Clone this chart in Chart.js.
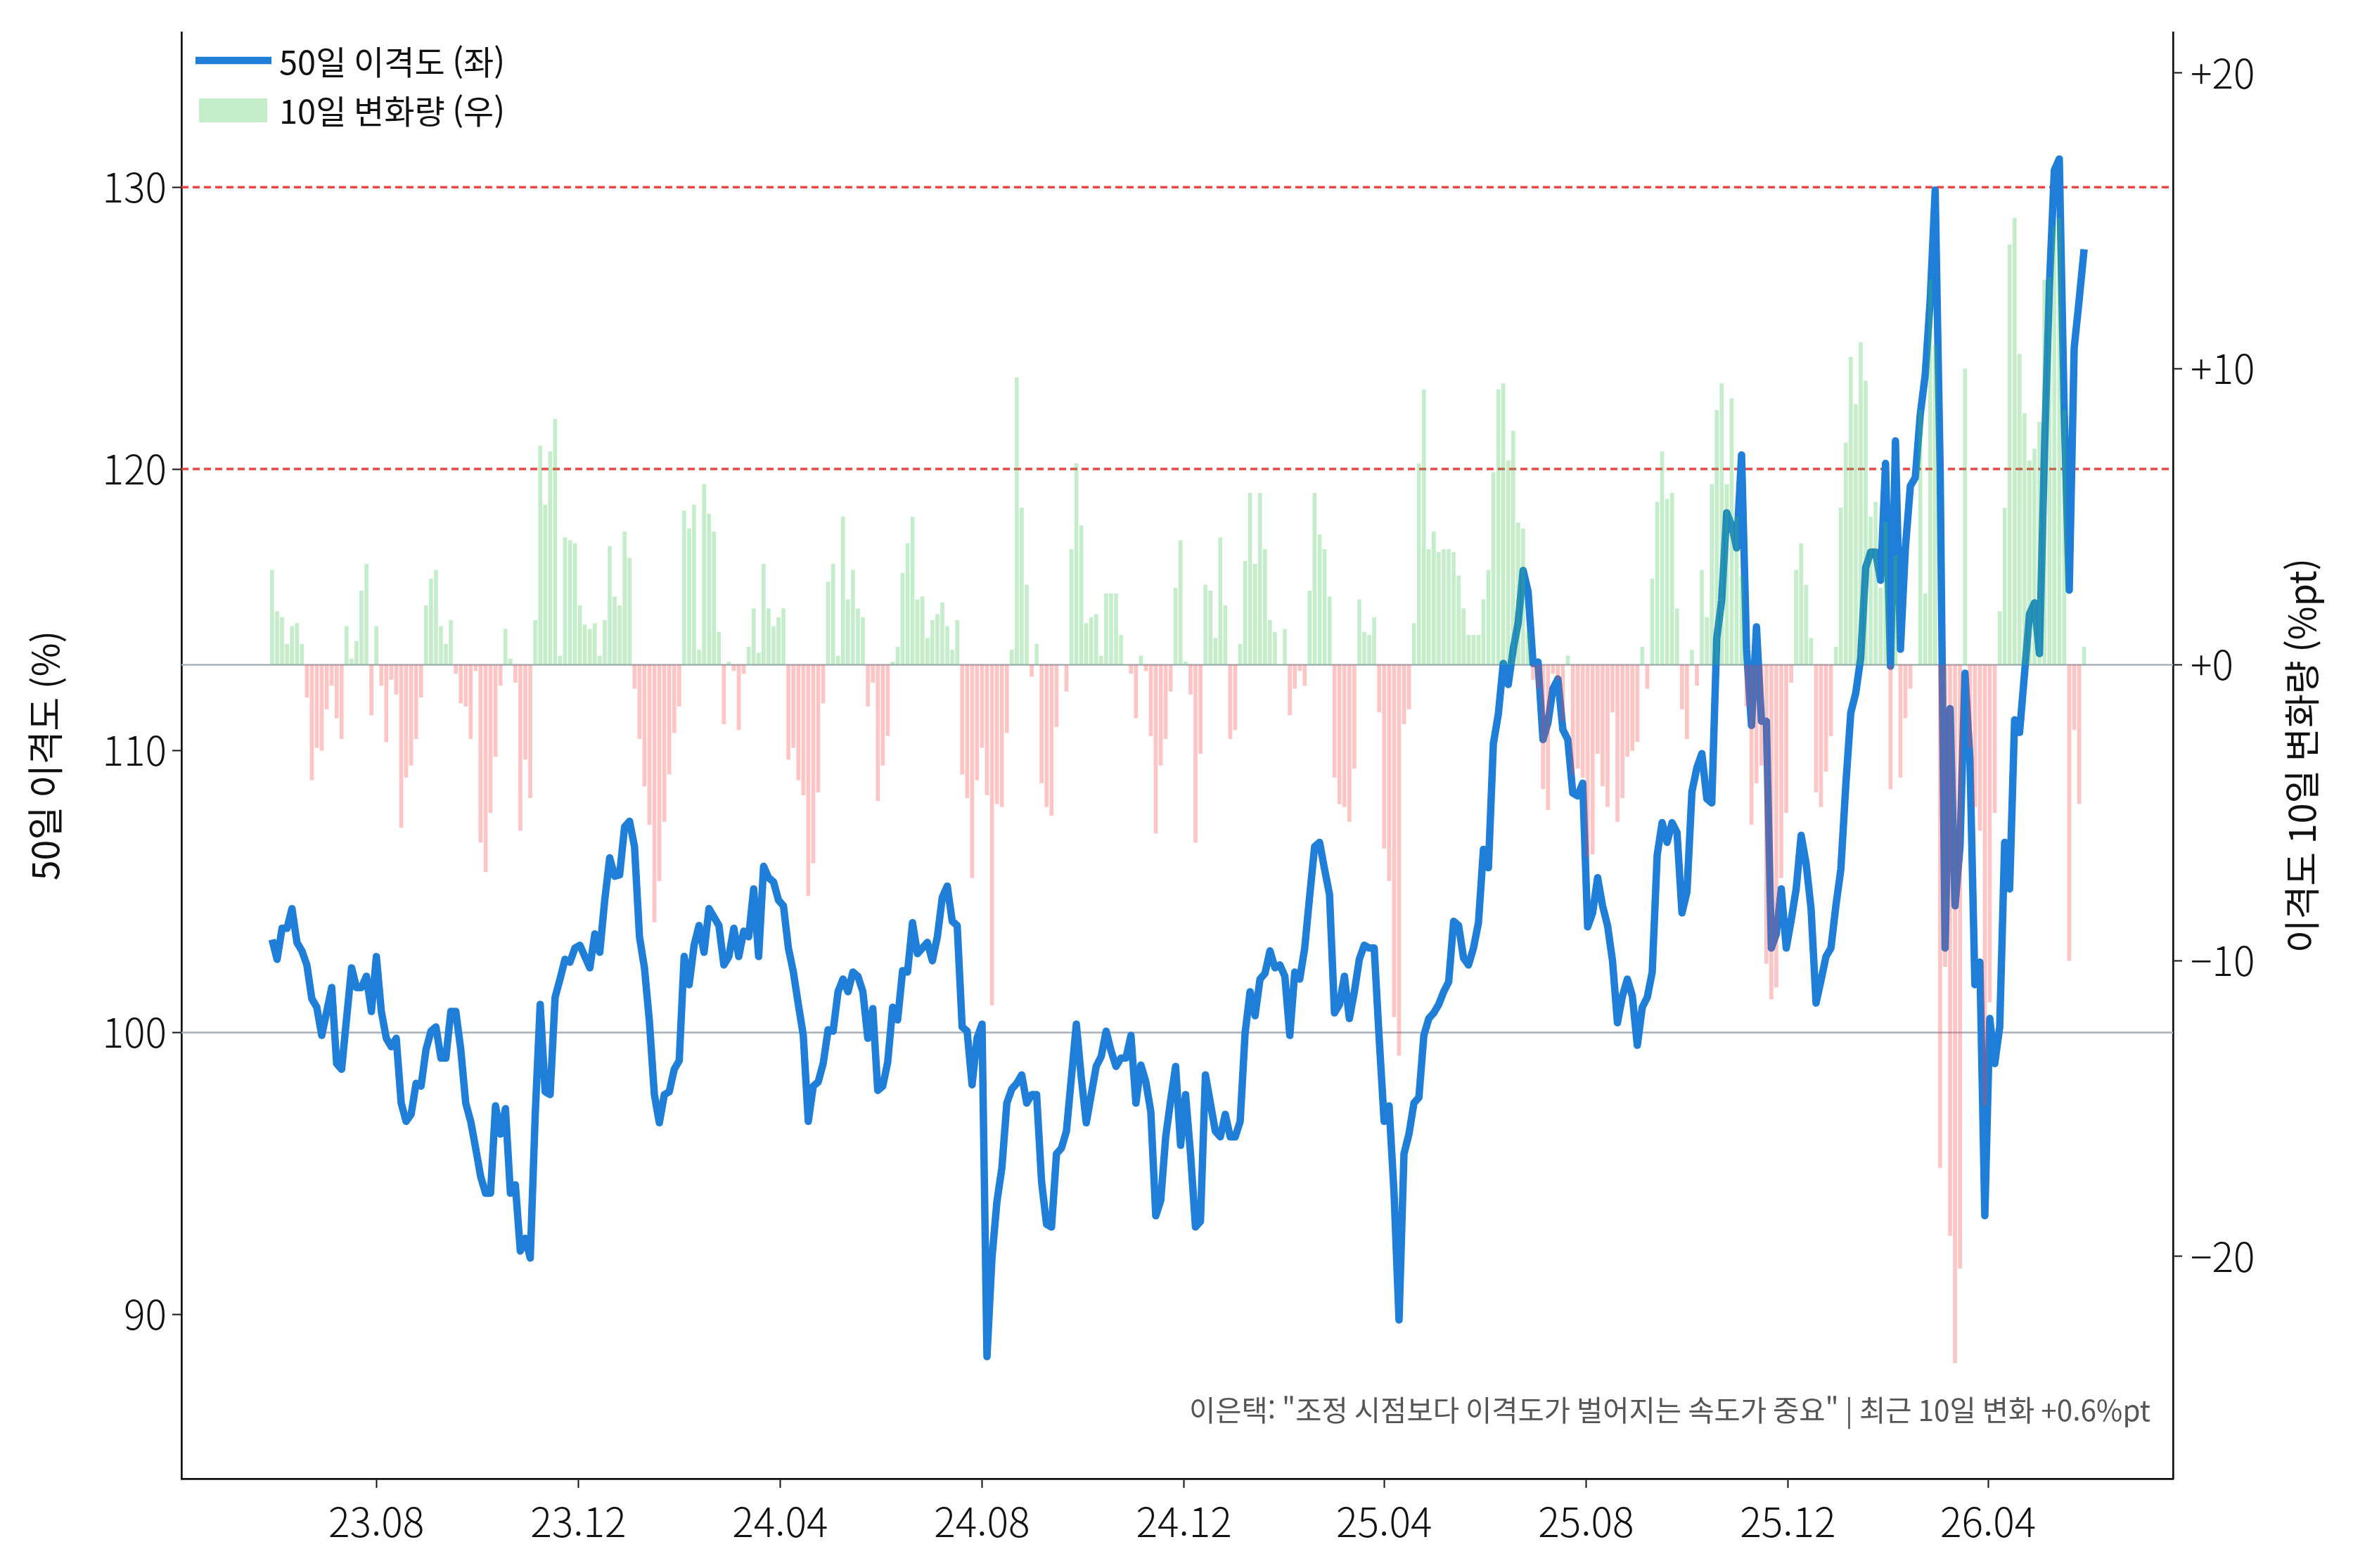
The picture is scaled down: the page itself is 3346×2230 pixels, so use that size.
<!DOCTYPE html>
<html lang="ko">
<head>
<meta charset="utf-8">
<title>50일 이격도</title>
<script src="https://cdn.jsdelivr.net/npm/chart.js@4.4.1/dist/chart.umd.min.js"></script>
<style>
  html, body { margin: 0; padding: 0; background: #fff; }
  canvas { display: block; }
</style>
</head>
<body>
<canvas id="chart" width="3346" height="2230"></canvas>
<script>
// 샘플링: 2023-05-30부터 3일 간격
const startDate = '2023-05-30';
const stepDays = 3;

const tickLabels = ['23.08', '23.12', '24.04', '24.08', '24.12', '25.04', '25.08', '25.12', '26.04'];
const leftTicks = [90, 100, 110, 120, 130];
const rightTicks = [-20, -10, 0, 10, 20];
const warnLevels = [120, 130];

// 50일 이격도 (%)
const disparity = [
  103.3, 102.6, 103.7, 103.7, 104.4, 103.2, 102.9, 102.4, 101.2, 100.9,
  99.9, 100.75, 101.6, 98.9, 98.7, 100.5, 102.3, 101.6, 101.6, 102.0,
  100.75, 102.7, 100.75, 99.8, 99.5, 99.8, 97.5, 96.85, 97.1, 98.2,
  98.1, 99.4, 100.05, 100.2, 99.1, 99.1, 100.75, 100.75, 99.4, 97.5,
  96.85, 95.9, 94.9, 94.3, 94.3, 97.4, 96.4, 97.3, 94.3, 94.6,
  92.25, 92.7, 92.0, 97.1, 101.0, 97.9, 97.8, 101.25, 101.9, 102.6,
  102.5, 103.0, 103.1, 102.7, 102.3, 103.5, 102.85, 104.7, 106.2, 105.55,
  105.6, 107.3, 107.5, 106.6, 103.4, 102.3, 100.4, 97.8, 96.8, 97.8,
  97.9, 98.7, 99.0, 102.7, 101.7, 103.1, 103.8, 102.85, 104.4, 104.1,
  103.8, 102.4, 102.7, 103.7, 102.7, 103.6, 103.4, 105.1, 102.7, 105.9,
  105.5, 105.35, 104.7, 104.5, 103.0, 102.15, 101.0, 99.9, 96.85, 98.1,
  98.25, 98.9, 100.1, 100.05, 101.45, 101.9, 101.45, 102.15, 102.0, 101.45,
  99.8, 100.85, 97.95, 98.1, 98.95, 100.9, 100.45, 102.2, 102.15, 103.9,
  102.8, 103.0, 103.2, 102.55, 103.4, 104.8, 105.2, 103.95, 103.8, 100.2,
  100.05, 98.15, 99.8, 100.3, 88.5, 92.0, 94.0, 95.2, 97.5, 98.0,
  98.2, 98.5, 97.5, 97.8, 97.8, 94.7, 93.2, 93.1, 95.7, 95.9,
  96.5, 98.4, 100.3, 98.4, 96.8, 97.8, 98.8, 99.15, 100.05, 99.35,
  98.8, 99.1, 99.1, 99.9, 97.5, 98.85, 98.25, 97.2, 93.5, 94.05,
  96.3, 97.6, 98.8, 96.0, 97.8, 95.7, 93.1, 93.3, 98.5, 97.5,
  96.5, 96.3, 97.1, 96.3, 96.3, 96.85, 100.0, 101.45, 100.6, 101.9,
  102.1, 102.9, 102.3, 102.4, 102.0, 99.9, 102.15, 101.9, 103.0, 104.85,
  106.6, 106.75, 105.8, 104.9, 100.7, 101.0, 102.0, 100.5, 101.45, 102.6,
  103.1, 103.0, 103.0, 99.8, 96.85, 97.4, 94.3, 89.8, 95.7, 96.4,
  97.5, 97.7, 99.9, 100.5, 100.7, 101.0, 101.45, 101.8, 103.95, 103.8,
  102.65, 102.4, 103.0, 103.9, 106.5, 105.85, 110.25, 111.3, 113.1, 112.35,
  113.6, 114.55, 116.4, 115.65, 113.1, 113.15, 110.4, 111.0, 112.2, 112.55,
  110.75, 110.4, 108.5, 108.4, 108.85, 103.75, 104.25, 105.5, 104.5, 103.8,
  102.55, 100.35, 101.3, 101.9, 101.3, 99.55, 100.9, 101.25, 102.15, 106.3,
  107.45, 106.75, 107.45, 107.1, 104.25, 105.0, 108.55, 109.4, 109.9, 108.3,
  108.15, 114.0, 115.35, 118.45, 118.0, 117.2, 120.5, 113.6, 110.9, 114.4,
  111.05, 111.05, 103.0, 103.5, 105.1, 103.0, 104.0, 105.1, 107.0, 106.0,
  104.4, 101.05, 101.85, 102.7, 103.0, 104.5, 105.8, 108.8, 111.35, 112.05,
  113.3, 116.5, 117.05, 117.05, 116.05, 120.2, 113.0, 121.0, 113.6, 117.2,
  119.4, 119.7, 121.95, 123.35, 126.0, 129.9, 120.0, 103.0, 111.5, 104.5,
  106.6, 112.75, 109.7, 101.7, 102.5, 93.5, 100.5, 98.9, 100.2, 106.75,
  105.1, 111.1, 110.65, 112.75, 114.85, 115.25, 113.45, 120.55, 126.45, 130.6,
  131.0, 121.95, 115.7, 124.3, 126.0, 127.8
];

// 이격도 10일 변화량 (%pt)
const change10 = [
  3.2, 1.8, 1.6, 0.7, 1.3, 1.4, 0.7, -1.1, -3.9, -2.8,
  -2.9, -1.5, -0.7, -1.8, -2.5, 1.3, 0.2, 0.8, 2.5, 3.4,
  -1.7, 1.3, -0.7, -2.6, -0.5, -1.0, -5.5, -3.8, -3.4, -2.5,
  -1.1, 2.0, 2.9, 3.2, 1.3, 0.7, 1.5, -0.3, -1.3, -1.4,
  -2.5, -0.2, -6.0, -7.0, -5.0, -3.1, -0.7, 1.2, 0.2, -0.6,
  -5.6, -3.2, -4.5, 1.5, 7.4, 5.4, 7.2, 8.3, 0.3, 4.3,
  4.2, 4.1, 2.0, 1.35, 1.2, 1.4, 0.3, 1.5, 4.0, 2.3,
  2.0, 4.5, 3.6, -0.8, -2.5, -4.1, -5.4, -8.7, -7.3, -5.3,
  -3.7, -2.3, -1.4, 5.2, 4.6, 5.4, 0.5, 6.1, 5.1, 4.5,
  1.1, -2.0, 0.1, -0.2, -2.2, -0.3, 0.6, 1.9, 0.4, 3.4,
  1.9, 1.3, 1.6, 1.9, -3.2, -2.8, -3.9, -4.4, -7.8, -6.7,
  -4.3, -1.3, 2.8, 3.4, 0.3, 5.0, 2.2, 3.2, 1.9, 1.6,
  -1.4, -0.6, -4.6, -3.4, -2.4, 0.1, 0.6, 3.1, 4.1, 5.0,
  2.2, 2.3, 0.9, 1.5, 1.7, 2.1, 1.3, 0.5, 1.5, -3.7,
  -4.5, -7.2, -3.9, -2.8, -4.4, -11.5, -4.7, -4.8, -2.3, 0.5,
  9.7, 5.3, 2.7, -0.4, 0.7, -4.0, -4.8, -5.1, -2.1, 0.0,
  -0.9, 3.9, 6.8, 4.7, 1.4, 1.6, 1.7, 0.3, 2.4, 2.4,
  2.4, 1.0, 0.0, -0.3, -1.8, 0.3, -0.2, -2.4, -5.7, -3.4,
  -2.5, -0.9, 2.6, 4.2, 0.1, -1.0, -6.0, -3.0, 2.7, 2.5,
  0.9, 4.3, 2.0, -2.5, -2.2, 0.7, 3.5, 5.8, 3.4, 5.8,
  3.9, 1.5, 1.1, 0.0, 1.2, -1.7, -0.8, -0.2, -0.7, 2.5,
  5.8, 4.4, 3.9, 2.3, -3.8, -4.7, -4.8, -5.3, -3.5, 2.2,
  1.1, 1.0, 1.6, -1.6, -6.2, -7.3, -11.9, -13.2, -2.0, -1.5,
  1.4, 6.8, 9.3, 3.9, 4.5, 3.8, 3.9, 3.9, 3.8, 3.0,
  1.9, 1.0, 1.0, 1.0, 2.2, 3.2, 6.5, 9.3, 9.5, 6.9,
  7.9, 4.8, 4.6, 1.1, -0.5, -0.8, -4.2, -4.9, -0.3, -0.5,
  -1.9, 0.3, -3.7, -3.5, -3.8, -6.5, -6.4, -3.0, -4.1, -4.8,
  -1.6, -5.3, -4.5, -3.1, -2.9, -2.6, 0.6, -0.8, 2.9, 5.5,
  7.2, 5.6, 5.8, 1.9, -1.5, -2.5, 0.5, -0.7, 3.2, 1.6,
  6.1, 8.6, 9.5, 6.1, 9.0, 5.0, 3.0, -1.4, -5.4, -4.0,
  -3.4, -10.1, -11.3, -10.9, -7.2, -5.0, -0.6, 3.2, 4.1, 2.7,
  0.9, -4.3, -4.8, -3.6, -2.4, 0.6, 5.3, 7.5, 10.4, 8.8,
  10.9, 9.6, 5.0, 5.5, 2.6, 4.8, -4.2, 3.7, -3.8, -1.8,
  -0.8, 0.0, 8.6, 2.4, 13.0, 10.8, -17.0, -10.2, -19.3, -23.6,
  -20.4, 10.0, -2.8, -4.8, -5.6, -14.9, -11.4, -5.0, 1.8, 5.3,
  14.2, 15.1, 10.5, 8.5, 6.9, 7.3, 8.2, 13.0, 13.1, 14.8,
  15.1, 8.6, -10.0, -2.2, -4.7, 0.6
];

const FONT = '"Noto Sans CJK KR", "Noto Sans", sans-serif';
const lineColor = '#1f7ed8';
const upColor = 'rgba(60, 200, 80, 0.3)';
const downColor = 'rgba(255, 60, 60, 0.3)';

function dayNum(s) {
  const p = s.split('-').map(Number);
  return Date.UTC(p[0], p[1] - 1, p[2]) / 86400000;
}

const start = dayNum(startDate);
const tickDays = tickLabels.map(l => dayNum('20' + l.slice(0, 2) + '-' + l.slice(3, 5) + '-01'));
const origin = tickDays[0];

const linePoints = disparity.map((v, i) => ({ x: start + i * stepDays, y: v }));
const barPoints = change10.map((v, i) => ({ x: start + i * stepDays, y: v }));

function fmtRight(v) {
  if (v > 0) return '+' + v;
  if (v === 0) return '+0';
  return '\u2212' + Math.abs(v);
}

const decor = {
  id: 'decor',
  beforeDatasetsDraw(chart) {
    const { ctx, chartArea: a, scales } = chart;
    ctx.save();
    ctx.lineWidth = 2.5;
    ctx.strokeStyle = '#aab0ba';
    [scales.y.getPixelForValue(100), scales.y2.getPixelForValue(0)].forEach(py => {
      ctx.beginPath();
      ctx.moveTo(a.left, py);
      ctx.lineTo(a.right, py);
      ctx.stroke();
    });
    ctx.strokeStyle = 'rgba(236, 52, 52, 0.9)';
    ctx.lineWidth = 3.5;
    ctx.setLineDash([10, 6]);
    warnLevels.forEach(v => {
      const py = scales.y.getPixelForValue(v);
      ctx.beginPath();
      ctx.moveTo(a.left, py);
      ctx.lineTo(a.right, py);
      ctx.stroke();
    });
    ctx.restore();
  },
  afterDraw(chart) {
    const { ctx, chartArea: a } = chart;
    ctx.save();
    // 범례
    ctx.fillStyle = '#111';
    ctx.font = '47px ' + FONT;
    ctx.textBaseline = 'middle';
    ctx.strokeStyle = lineColor;
    ctx.lineWidth = 10.5;
    ctx.beginPath();
    ctx.moveTo(a.left + 20, 86);
    ctx.lineTo(a.left + 128, 86);
    ctx.stroke();
    ctx.fillText('50일 이격도 (좌)', a.left + 139, 88);
    ctx.fillStyle = upColor;
    ctx.fillRect(a.left + 25, 140, 97, 34);
    ctx.fillStyle = '#111';
    ctx.fillText('10일 변화량 (우)', a.left + 139, 158);

    // 축 제목
    ctx.font = '52px ' + FONT;
    ctx.textAlign = 'center';
    const cy = (a.top + a.bottom) / 2;
    [[64, '50일 이격도 (%)'], [3273, '이격도 10일 변화량 (%pt)']].forEach(([cx, t]) => {
      ctx.save();
      ctx.translate(cx, cy);
      ctx.rotate(-Math.PI / 2);
      ctx.fillText(t, 0, 0);
      ctx.restore();
    });

    // 주석
    ctx.font = '40.5px ' + FONT;
    ctx.fillStyle = '#555';
    ctx.textAlign = 'right';
    ctx.textBaseline = 'alphabetic';
    ctx.fillText('이은택: "조정 시점보다 이격도가 벌어지는 속도가 중요" | 최근 10일 변화 +0.6%pt', a.right - 32, a.bottom - 82);
    ctx.restore();
  }
};

const tickFont = { family: FONT, size: 57, weight: 300 };

function makeChart() {
  new Chart(document.getElementById('chart'), {
    type: 'bar',
    data: {
      datasets: [
        {
          type: 'bar',
          label: '10일 변화량 (우)',
          data: barPoints,
          yAxisID: 'y2',
          order: 0,
          barThickness: 5,
          backgroundColor: c => (c.raw && c.raw.y < 0 ? downColor : upColor),
          borderWidth: 0
        },
        {
          type: 'line',
          label: '50일 이격도 (좌)',
          data: linePoints,
          yAxisID: 'y',
          order: 1,
          borderColor: lineColor,
          borderWidth: 10.5,
          borderJoinStyle: 'round',
          pointRadius: 0,
          tension: 0,
          fill: false
        }
      ]
    },
    options: {
      responsive: false,
      animation: false,
      devicePixelRatio: 1,
      layout: { padding: { top: 38, left: 0, right: 0, bottom: 0 } },
      plugins: { legend: { display: false }, tooltip: { enabled: false } },
      scales: {
        x: {
          type: 'linear',
          offset: false,
          min: origin - 117.8,
          max: origin + 1085.7,
          afterBuildTicks: s => { s.ticks = tickDays.map(v => ({ value: v })); },
          afterFit: s => { s.height = 127; },
          ticks: {
            autoSkip: false,
            maxRotation: 0,
            padding: 14,
            color: '#111',
            font: tickFont,
            callback: (v, i) => tickLabels[i]
          },
          grid: { offset: false, drawOnChartArea: false, tickLength: 13, tickWidth: 2, tickColor: '#111' },
          border: { display: true, color: '#111', width: 2.7 }
        },
        y: {
          position: 'left',
          min: 84.17,
          max: 135.49,
          afterBuildTicks: s => { s.ticks = leftTicks.map(v => ({ value: v })); },
          afterFit: s => { s.width = 258; },
          ticks: { padding: 8, color: '#111', font: tickFont },
          grid: { drawOnChartArea: false, tickLength: 13, tickWidth: 2, tickColor: '#111' },
          border: { display: true, color: '#111', width: 2.7 }
        },
        y2: {
          position: 'right',
          min: -27.51,
          max: 21.37,
          afterBuildTicks: s => { s.ticks = rightTicks.map(v => ({ value: v })); },
          afterFit: s => { s.width = 256; },
          ticks: { padding: 12, color: '#111', font: tickFont, callback: v => fmtRight(v) },
          grid: { drawOnChartArea: false, tickLength: 13, tickWidth: 2, tickColor: '#111' },
          border: { display: true, color: '#111', width: 2.7 }
        }
      }
    },
    plugins: [decor]
  });
}

if (document.fonts && document.fonts.load) {
  document.fonts.load('57px "Noto Sans CJK KR"').then(makeChart, makeChart);
} else {
  makeChart();
}
</script>
</body>
</html>
